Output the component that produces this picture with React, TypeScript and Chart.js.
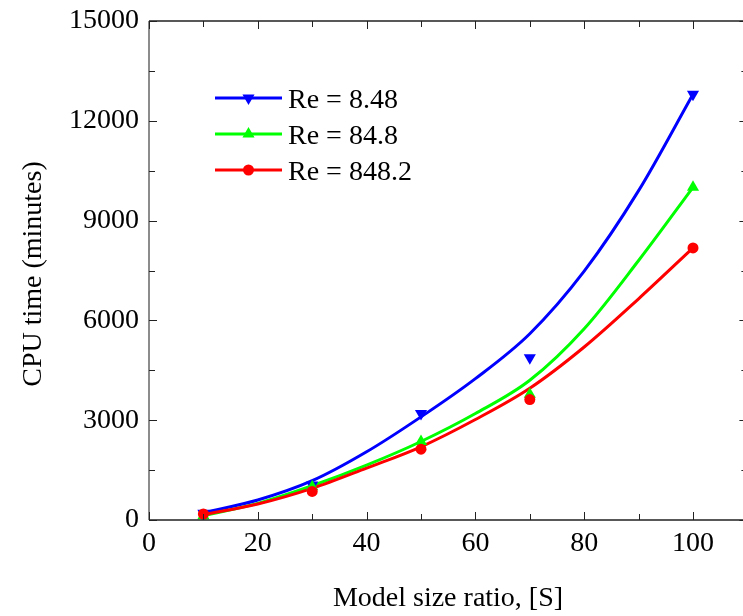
import React, { useEffect, useRef } from "react";
import { Chart, registerables } from "chart.js";
Chart.register(...registerables);

// Measured markers
const xValues = [10, 30, 50, 70, 100];
const blueMarkers = [200, 1050, 3200, 4880, 12800];
const greenMarkers = [130, 1000, 2360, 3780, 10000];
const redMarkers = [180, 860, 2130, 3620, 8180];

// Fitted curves
const curveX = [10, 20, 30, 40, 50, 60, 70, 80, 90, 100];
const blueCurve = [220, 600, 1180, 2050, 3100, 4250, 5600, 7480, 9900, 12800];
const greenCurve = [130, 500, 1030, 1650, 2360, 3200, 4200, 5750, 7800, 10000];
const redCurve = [160, 480, 950, 1560, 2200, 3020, 3960, 5200, 6650, 8180];

const seriesLabels = ["Re = 8.48", "Re = 84.8", "Re = 848.2"];
const seriesColors = ["#0000ff", "#00ff00", "#ff0000"];
const seriesMarkers = ["down", "up", "circle"];
const xTitle = "Model size ratio, [S]";
const yTitle = "CPU time (minutes)";

const FONT = "'Liberation Serif', 'Times New Roman', serif";
const W = 760;
const H = 616;

function pts(xs: number[], ys: number[]) {
  return xs.map((x, i) => ({ x, y: ys[i] }));
}

function drawMarker(ctx: CanvasRenderingContext2D, kind: string, x: number, y: number, color: string) {
  ctx.save();
  ctx.fillStyle = color;
  ctx.beginPath();
  if (kind === "circle") {
    ctx.arc(x, y, 5.5, 0, Math.PI * 2);
  } else {
    const r = 7;
    const s = kind === "down" ? -1 : 1;
    ctx.moveTo(x, y - s * r);
    ctx.lineTo(x + r * 0.866, y + s * r * 0.5);
    ctx.lineTo(x - r * 0.866, y + s * r * 0.5);
    ctx.closePath();
  }
  ctx.fill();
  ctx.restore();
}

const framePlugin = {
  id: "framePlugin",
  afterDraw(chart: any) {
    const ctx: CanvasRenderingContext2D = chart.ctx;
    const { left, right, top, bottom } = chart.chartArea;
    const xs = chart.scales.x;
    const ys = chart.scales.y;
    ctx.save();
    // frame
    ctx.lineWidth = 1.5;
    ctx.strokeStyle = "#222";
    ctx.beginPath();
    ctx.moveTo(left, top);
    ctx.lineTo(right, top);
    ctx.moveTo(left, bottom);
    ctx.lineTo(right, bottom);
    ctx.moveTo(right, top);
    ctx.lineTo(right, bottom);
    ctx.stroke();
    ctx.strokeStyle = "#666";
    ctx.beginPath();
    ctx.moveTo(left, top);
    ctx.lineTo(left, bottom);
    ctx.stroke();
    // ticks
    ctx.strokeStyle = "#222";
    ctx.lineWidth = 1;
    ctx.beginPath();
    for (let v = 0; v <= 110; v += 10) {
      const len = v % 20 === 0 ? 8 : 6;
      const px = Math.round(xs.getPixelForValue(v)) + 0.5;
      ctx.moveTo(px, bottom);
      ctx.lineTo(px, bottom - len);
      ctx.moveTo(px, top);
      ctx.lineTo(px, top + len);
    }
    for (let v = 0; v <= 15000; v += 1500) {
      const len = v % 3000 === 0 ? 8 : 6;
      const py = Math.round(ys.getPixelForValue(v)) + 0.5;
      ctx.moveTo(left, py);
      ctx.lineTo(left + len, py);
      ctx.moveTo(right, py);
      ctx.lineTo(right - len, py);
    }
    ctx.stroke();

    // legend
    const rowsY = [98, 134, 170];
    ctx.font = `28px ${FONT}`;
    ctx.textAlign = "left";
    ctx.textBaseline = "alphabetic";
    seriesLabels.forEach((lab, i) => {
      const y = rowsY[i];
      ctx.strokeStyle = seriesColors[i];
      ctx.lineWidth = 3;
      ctx.beginPath();
      ctx.moveTo(215, y);
      ctx.lineTo(282, y);
      ctx.stroke();
      drawMarker(ctx, seriesMarkers[i], 248.5, y, seriesColors[i]);
      ctx.fillStyle = "#000";
      ctx.fillText(lab, 288, y + 9.5);
    });

    // axis titles
    ctx.fillStyle = "#000";
    ctx.font = `28px ${FONT}`;
    ctx.textAlign = "center";
    ctx.textBaseline = "alphabetic";
    ctx.fillText(xTitle, 448, 606);
    ctx.save();
    ctx.translate(41, 274);
    ctx.rotate(-Math.PI / 2);
    ctx.fillText(yTitle, 0, 0);
    ctx.restore();
    ctx.restore();
  },
};

export default function App() {
  const ref = useRef<HTMLCanvasElement | null>(null);

  useEffect(() => {
    document.documentElement.style.overflow = "hidden";
    document.body.style.overflow = "hidden";
    document.body.style.margin = "0";
    const canvas = ref.current;
    if (!canvas) return;

    const lineDs = (data: number[], color: string, order: number) => ({
      type: "line" as const,
      data: pts(curveX, data),
      borderColor: color,
      backgroundColor: color,
      borderWidth: 3,
      pointRadius: 0,
      cubicInterpolationMode: "monotone" as const,
      fill: false,
      order,
    });
    const markerDs = (data: number[], color: string, style: string, rot: number, radius: number, order: number) => ({
      type: "scatter" as const,
      data: pts(xValues, data),
      borderColor: color,
      backgroundColor: color,
      pointStyle: style,
      pointRotation: rot,
      pointRadius: radius,
      pointBorderWidth: 0,
      borderWidth: 0,
      showLine: false,
      order,
    });

    const chart = new Chart(canvas, {
      type: "scatter",
      data: {
        datasets: [
          markerDs(redMarkers, seriesColors[2], "circle", 0, 5.5, 0),
          markerDs(greenMarkers, seriesColors[1], "triangle", 0, 7, 1),
          markerDs(blueMarkers, seriesColors[0], "triangle", 180, 7, 2),
          lineDs(redCurve, seriesColors[2], 3),
          lineDs(greenCurve, seriesColors[1], 4),
          lineDs(blueCurve, seriesColors[0], 5),
        ] as any,
      },
      options: {
        animation: false,
        responsive: false,
        devicePixelRatio: 1,
        layout: { padding: { left: 0, top: 21, right: W - 747.4, bottom: 0 } },
        plugins: {
          legend: { display: false },
          tooltip: { enabled: false },
          title: { display: false },
        },
        scales: {
          x: {
            type: "linear",
            position: "bottom",
            min: 0,
            max: 110,
            grid: { display: false, drawTicks: false },
            border: { display: false },
            ticks: {
              stepSize: 20,
              includeBounds: false,
              autoSkip: false,
              maxRotation: 0,
              padding: 7,
              color: "#000",
              font: { family: FONT, size: 28 },
              callback: (v: any) => String(v),
            },
            afterFit: (s: any) => {
              s.height = 96;
              s.paddingLeft = 0;
              s.paddingRight = 0;
            },
          },
          y: {
            type: "linear",
            position: "left",
            min: 0,
            max: 15000,
            grid: { display: false, drawTicks: false },
            border: { display: false },
            ticks: {
              stepSize: 3000,
              autoSkip: false,
              padding: 10,
              color: "#000",
              font: { family: FONT, size: 28 },
              callback: (v: any) => String(v),
            },
            afterFit: (s: any) => {
              s.width = 149;
              s.paddingTop = 0;
              s.paddingBottom = 0;
            },
          },
        },
      },
      plugins: [framePlugin],
    });
    return () => chart.destroy();
  }, []);

  return (
    <div style={{ position: "absolute", left: 0, top: 0, width: W, height: H }}>
      <canvas ref={ref} width={W} height={H} style={{ display: "block" }} />
    </div>
  );
}
